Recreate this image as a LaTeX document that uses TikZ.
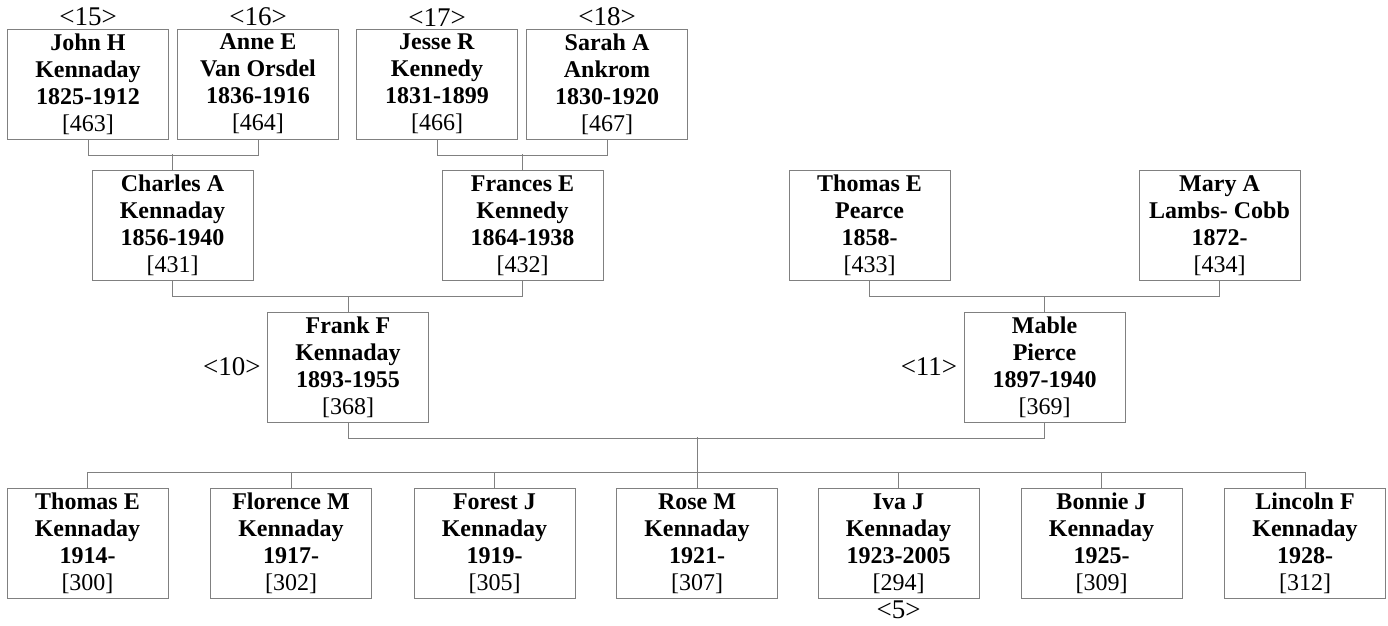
\documentclass[tikz,border=0pt]{standalone}
\usepackage{fontspec}
\setmainfont{Liberation Serif}
\usetikzlibrary{positioning}

\tikzset{
  person/.style={draw=gray, rectangle, align=center, inner sep=0pt,
    minimum width=80.5pt, minimum height=55pt,
    font=\fontsize{12}{13.5}\selectfont},
  tag/.style={inner sep=1pt, font=\fontsize{13.5}{15}\selectfont},
  link/.style={draw=gray, line width=0.5pt}
}

\begin{document}
\begin{tikzpicture}[x=0.5pt, y=0.5pt]
    \useasboundingbox (0,0) rectangle (1388,-626);
    % great-grandparents
    \node[person] (463) at (88,-84) {\textbf{John H}\\\textbf{Kennaday}\\\textbf{1825-1912}\\{}[463]};
    \node[person] (464) at (258,-84) {\textbf{Anne E}\\\textbf{Van Orsdel}\\\textbf{1836-1916}\\{}[464]};
    \node[person] (466) at (437,-84) {\textbf{Jesse R}\\\textbf{Kennedy}\\\textbf{1831-1899}\\{}[466]};
    \node[person] (467) at (607,-84) {\textbf{Sarah A}\\\textbf{Ankrom}\\\textbf{1830-1920}\\{}[467]};
    \node[tag, above=0pt of 463] (t15) {<15>};
    \node[tag, above=0pt of 464] (t16) {<16>};
    \node[tag, above=0pt of 466] (t17) {<17>};
    \node[tag, above=0pt of 467] (t18) {<18>};
    % grandparents
    \node[person] (431) at (172.5,-225.5) {\textbf{Charles A}\\\textbf{Kennaday}\\\textbf{1856-1940}\\{}[431]};
    \node[person] (432) at (522.5,-225.5) {\textbf{Frances E}\\\textbf{Kennedy}\\\textbf{1864-1938}\\{}[432]};
    \node[person] (433) at (869.5,-225.5) {\textbf{Thomas E}\\\textbf{Pearce}\\\textbf{1858-}\\{}[433]};
    \node[person] (434) at (1219.5,-225.5) {\textbf{Mary A}\\\textbf{Lambs- Cobb}\\\textbf{1872-}\\{}[434]};
    % parents
    \node[person] (368) at (348,-367) {\textbf{Frank F}\\\textbf{Kennaday}\\\textbf{1893-1955}\\{}[368]};
    \node[person] (369) at (1044.5,-367) {\textbf{Mable}\\\textbf{Pierce}\\\textbf{1897-1940}\\{}[369]};
    \node[tag, left=2pt of 368] (t10) {<10>};
    \node[tag, left=2pt of 369] (t11) {<11>};
    % children
    \node[person] (300) at (87.5,-543.5) {\textbf{Thomas E}\\\textbf{Kennaday}\\\textbf{1914-}\\{}[300]};
    \node[person] (302) at (291,-543.5) {\textbf{Florence M}\\\textbf{Kennaday}\\\textbf{1917-}\\{}[302]};
    \node[person] (305) at (494.5,-543.5) {\textbf{Forest J}\\\textbf{Kennaday}\\\textbf{1919-}\\{}[305]};
    \node[person] (307) at (697,-543.5) {\textbf{Rose M}\\\textbf{Kennaday}\\\textbf{1921-}\\{}[307]};
    \node[person] (294) at (898.5,-543.5) {\textbf{Iva J}\\\textbf{Kennaday}\\\textbf{1923-2005}\\{}[294]};
    \node[person] (309) at (1101.5,-543.5) {\textbf{Bonnie J}\\\textbf{Kennaday}\\\textbf{1925-}\\{}[309]};
    \node[person] (312) at (1305,-543.5) {\textbf{Lincoln F}\\\textbf{Kennaday}\\\textbf{1928-}\\{}[312]};
    \node[tag, below=0pt of 294] (t5) {<5>};
    % links
    \draw[link] (463.south) -- ++(0,-16) -| (464.south);
    \draw[link] (431.north) -- ++(0,16);
    \draw[link] (466.south) -- ++(0,-16) -| (467.south);
    \draw[link] (432.north) -- ++(0,16);
    \draw[link] (431.south) -- ++(0,-16) -| (432.south);
    \draw[link] (368.north) -- ++(0,16);
    \draw[link] (433.south) -- ++(0,-16) -| (434.south);
    \draw[link] (369.north) -- ++(0,16);
    \draw[link] (368.south) -- ++(0,-16) -| (369.south);
    \draw[link] (307.north) -- ++(0,51);
    \draw[link] (300.north) -- ++(0,16) -| (312.north);
    \foreach \n in {302,305,294,309}
        \draw[link] (\n.north) -- ++(0,16);
\end{tikzpicture}
\end{document}
